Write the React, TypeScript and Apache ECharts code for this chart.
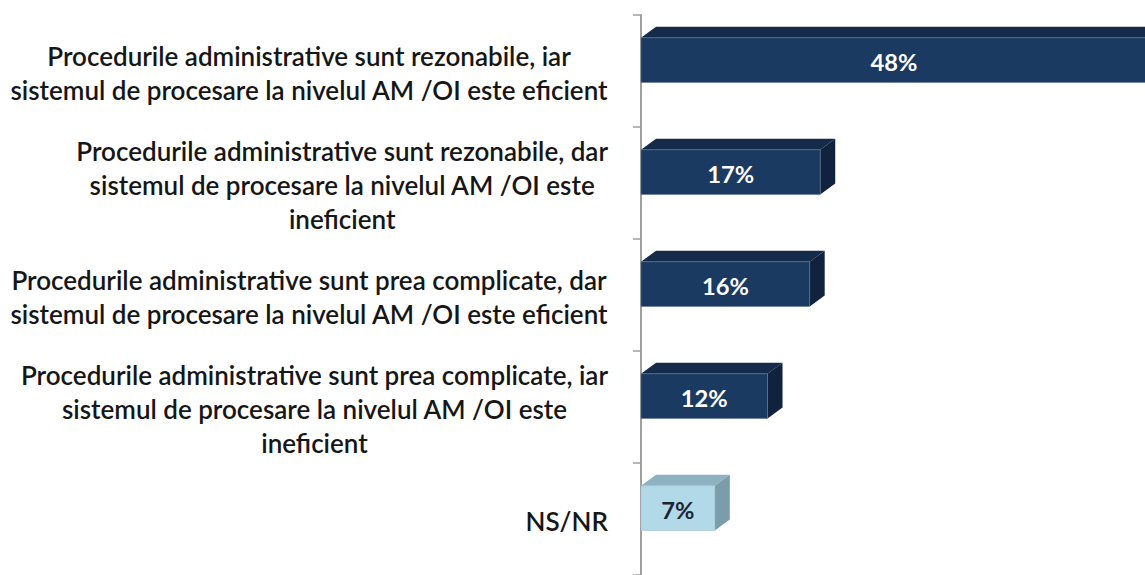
import React, { useEffect, useRef } from "react";
import * as echarts from "echarts";

const categories: string[] = [
  "Procedurile administrative sunt rezonabile, iar\nsistemul de procesare la nivelul AM /OI este eficient",
  "Procedurile administrative sunt rezonabile, dar\nsistemul de procesare la nivelul AM /OI este\nineficient",
  "Procedurile administrative sunt prea complicate, dar\nsistemul de procesare la nivelul AM /OI este eficient",
  "Procedurile administrative sunt prea complicate, iar\nsistemul de procesare la nivelul AM /OI este\nineficient",
  "NS/NR",
];
const values: number[] = [48, 17, 16, 12, 7];
const isOther: boolean[] = [false, false, false, false, true];

const FONT = "Lato, 'Open Sans', sans-serif";
const LABEL_WEIGHT = "600";

function fitFontSize(text: string, target: number, weight: string): number {
  try {
    const c = document.createElement("canvas").getContext("2d");
    if (!c) return 22;
    c.font = `${weight} 20px Lato`;
    const w = c.measureText(text).width;
    if (!w) return 22;
    return Math.round(((20 * target) / w) * 10) / 10;
  } catch (e) {
    return 22;
  }
}

export default function App() {
  const ref = useRef<HTMLDivElement>(null);
  useEffect(() => {
    if (!ref.current) return;
    const chart = echarts.init(ref.current, undefined, { renderer: "svg" });
    const labelSize = fitFontSize(
      "sistemul de procesare la nivelul AM /OI este eficient",
      597,
      LABEL_WEIGHT
    );
    const valueSize = fitFontSize("48%", 47, "bold");

    const data = values.map((v, i) => [v, i]);

    const option: any = {
      animation: false,
      backgroundColor: "#ffffff",
      grid: { left: 641, right: 0, top: 15, bottom: -5, containLabel: false },
      xAxis: {
        type: "value",
        min: 0,
        max: 47.8,
        show: false,
      },
      yAxis: {
        type: "category",
        inverse: true,
        data: categories,
        offset: 11,
        axisLine: { show: true, lineStyle: { color: "#a0a0a0", width: 2 } },
        axisTick: { show: true, length: 8, inside: false, lineStyle: { color: "#a0a0a0", width: 1.5 } },
        splitLine: { show: false },
        axisLabel: {
          margin: 22,
          align: "right",
          padding: [4, 0, 0, 0],
          formatter: (val: string) =>
            val
              .split("\n")
              .map((l) => `{c|${l}}`)
              .join("\n"),
          rich: {
            c: {
              align: "center",
              fontFamily: FONT,
              fontSize: labelSize,
              fontWeight: LABEL_WEIGHT,
              color: "#161616",
              lineHeight: 34,
            },
          },
        },
      },
      series: [
        {
          type: "custom",
          data: data,
          encode: { x: 0, y: 1 },
          renderItem: (params: any, api: any) => {
            const v = api.value(0);
            const i = api.value(1);
            const end = api.coord([v, i]);
            const start = api.coord([0, i]);
            const band = api.size([0, 1])[1];
            const x0 = start[0];
            const x1 = end[0];
            const yc = end[1];
            const h = band * 0.4;
            const top = yc - band * 0.297;
            const bottom = top + h;
            const dx = 15;
            const dy = 11;
            const other = isOther[i];
            const front = other ? "#b2d9e8" : "#1b3a62";
            const topC = other ? "#8fb2c1" : "#142b4a";
            const sideC = other ? "#7a9cab" : "#10223d";
            return {
              type: "group",
              children: [
                {
                  type: "polygon",
                  shape: { points: [[x0, top], [x0 + dx, top - dy], [x1 + dx, top - dy], [x1, top]] },
                  style: { fill: topC },
                },
                {
                  type: "polygon",
                  shape: { points: [[x1, top], [x1 + dx, top - dy], [x1 + dx, bottom - dy], [x1, bottom]] },
                  style: { fill: sideC },
                },
                {
                  type: "rect",
                  shape: { x: x0, y: top, width: x1 - x0, height: h },
                  style: { fill: front, stroke: other ? "#9dbccb" : "#5f7590", lineWidth: 0.6 },
                },
                {
                  type: "text",
                  x: (x0 + x1) / 2,
                  y: top + h / 2 + 2,
                  style: {
                    text: `${values[i]}%`,
                    fill: other ? "#1c2535" : "#ffffff",
                    font: `bold ${valueSize}px ${FONT}`,
                    align: "center",
                    verticalAlign: "middle",
                  },
                },
              ],
            };
          },
        },
      ],
    };
    chart.setOption(option);
    return () => chart.dispose();
  }, []);
  return (
    <div
      ref={ref}
      style={{ position: "fixed", left: 0, top: 0, width: 1145, height: 575 }}
    />
  );
}
